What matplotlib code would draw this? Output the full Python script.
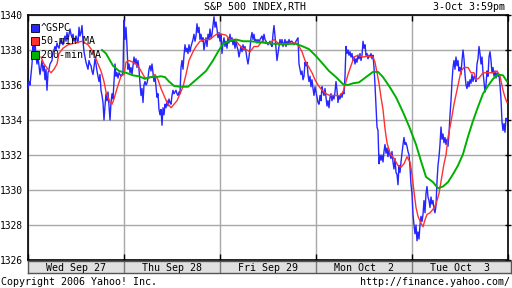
import matplotlib
matplotlib.use("Agg")
import numpy as np
import matplotlib.pyplot as plt
from matplotlib.lines import Line2D

plt.rcParams['font.family'] = ['DejaVu Sans Mono']

# ---- data (one bar ~ 4 trading minutes, 96 bars per day)
days = ["Wed Sep 27", "Thu Sep 28", "Fri Sep 29", "Mon Oct  2", "Tue Oct  3"]
bars_per_day = 96
price_ticks = [1326, 1328, 1330, 1332, 1334, 1336, 1338, 1340]

gspc = [
    1335.8, 1336.2, 1336.0, 1336.6, 1337.2, 1338.2, 1337.9, 1338.5, 1337.6, 1337.2, 1337.6, 1337.1, 1336.6, 1337.0, 1337.4, 1336.8,
    1337.1, 1336.3, 1336.9, 1335.7, 1336.7, 1336.9, 1337.2, 1337.3, 1337.4, 1337.9, 1338.0, 1338.2, 1338.0, 1338.4, 1338.2, 1338.1,
    1338.4, 1338.6, 1338.4, 1338.3, 1338.6, 1338.8, 1338.5, 1339.0, 1338.6, 1338.9, 1339.2, 1338.9, 1338.7, 1338.9, 1338.5, 1338.6,
    1338.8, 1338.6, 1338.4, 1339.3, 1338.8, 1339.0, 1339.4, 1338.5, 1337.9, 1337.6, 1337.3, 1337.1, 1336.9, 1337.4, 1337.2, 1337.1,
    1336.8, 1336.6, 1337.0, 1337.5, 1337.2, 1336.8, 1336.5, 1336.2, 1336.6, 1335.7, 1335.4, 1335.0, 1334.0, 1334.8, 1335.5, 1335.1,
    1335.6, 1334.8, 1334.0, 1335.0, 1335.5, 1335.2, 1336.2, 1337.2, 1336.5, 1336.7, 1336.4, 1336.7, 1336.6, 1336.5, 1336.6, 1336.7,
    1339.7, 1338.6, 1339.3, 1338.2, 1336.9, 1337.2, 1336.7, 1337.0, 1336.6, 1337.1, 1337.6, 1337.2, 1337.5, 1337.0, 1337.4, 1336.9,
    1336.1, 1335.4, 1335.8, 1335.0, 1336.0, 1336.2, 1336.0, 1336.1, 1336.4, 1336.9, 1337.1, 1336.8, 1337.2, 1336.7, 1336.2, 1336.5,
    1335.9, 1335.3, 1335.5, 1334.6, 1334.3, 1334.6, 1333.7, 1334.7, 1334.3, 1334.9, 1334.7, 1335.1, 1334.8, 1335.2, 1335.0, 1334.9,
    1335.4, 1335.7, 1335.5, 1335.6, 1335.7, 1335.5, 1335.4, 1335.6, 1335.5, 1337.0, 1337.4, 1336.9, 1337.7, 1338.3, 1337.9, 1338.1,
    1337.8, 1338.3, 1337.9, 1338.2, 1338.4, 1338.6, 1338.9, 1338.5, 1338.8, 1339.5, 1339.0, 1339.3, 1338.6, 1338.9, 1338.5, 1338.7,
    1338.0, 1338.4, 1338.7, 1338.2, 1338.9, 1338.6, 1339.2, 1338.7, 1338.9, 1339.4, 1339.9, 1339.3, 1339.6, 1339.2, 1338.7, 1339.0,
    1338.5, 1338.9, 1337.8, 1338.4, 1338.7, 1338.2, 1338.5, 1338.1, 1338.7, 1338.4, 1338.9, 1338.5, 1338.7, 1338.3, 1338.6, 1338.1,
    1338.5, 1338.2, 1338.0, 1337.6, 1337.9, 1338.2, 1337.9, 1338.3, 1338.0, 1338.2, 1337.9, 1337.5, 1337.2, 1337.6, 1338.1, 1338.7,
    1339.0, 1338.6, 1338.9, 1338.5, 1338.6, 1338.4, 1338.6, 1338.4, 1338.6, 1338.7, 1338.8, 1338.5, 1338.9, 1338.6, 1338.5, 1338.4,
    1338.3, 1338.4, 1338.5, 1338.3, 1338.2, 1338.9, 1339.4, 1338.8, 1338.1, 1337.4, 1337.8, 1338.2, 1338.6, 1338.3, 1338.6, 1338.2,
    1338.4, 1338.6, 1338.2, 1338.5, 1338.3, 1338.6, 1338.4, 1338.5, 1338.5, 1338.4, 1338.3, 1338.4, 1338.5, 1338.6, 1338.7, 1337.2,
    1336.9, 1336.6, 1336.8, 1336.3, 1336.5, 1337.3, 1337.1, 1337.3, 1336.6, 1336.2, 1336.5, 1335.9, 1336.3, 1335.8, 1335.4, 1335.9,
    1335.6, 1335.3, 1335.0, 1334.9, 1335.4, 1335.1, 1335.9, 1335.6, 1335.4, 1335.8, 1335.3, 1334.8, 1335.1, 1334.7, 1335.3, 1335.5,
    1335.1, 1335.4, 1335.2, 1335.6, 1336.2, 1335.7, 1335.0, 1335.4, 1335.2, 1335.5, 1335.3, 1335.6, 1335.5, 1336.5, 1338.2, 1337.8,
    1338.0, 1337.7, 1337.9, 1337.6, 1337.8, 1337.4, 1337.6, 1337.2, 1337.5, 1337.3, 1337.7, 1337.5, 1337.8, 1337.4, 1337.7, 1338.5,
    1338.1, 1338.3, 1337.7, 1337.8, 1337.5, 1337.7, 1337.6, 1337.8, 1337.5, 1337.7, 1337.0, 1336.0, 1334.8, 1333.6, 1333.4, 1331.5,
    1332.0, 1331.7, 1332.0, 1331.6, 1332.2, 1332.6, 1332.1, 1332.4, 1331.9, 1332.3, 1332.0, 1331.8, 1332.2, 1331.6, 1331.2, 1331.8,
    1331.0, 1330.9, 1330.3, 1331.4, 1331.0, 1331.6, 1332.1, 1332.6, 1333.0, 1332.6, 1332.7, 1332.5, 1332.2, 1332.0, 1331.3, 1330.3,
    1329.8, 1328.6, 1328.0, 1327.5, 1328.0, 1327.1, 1327.6, 1327.2, 1328.0, 1328.5, 1328.2, 1328.6, 1329.4, 1328.7, 1329.8, 1330.2,
    1329.6, 1329.4, 1329.0, 1329.6, 1329.2, 1329.4, 1328.9, 1328.7, 1329.1, 1330.5, 1331.4, 1331.9, 1332.6, 1333.6, 1332.9, 1333.2,
    1332.7, 1333.0, 1332.6, 1332.9, 1332.5, 1333.2, 1334.3, 1335.1, 1336.2, 1337.0, 1337.4, 1336.9, 1337.6, 1337.1, 1337.4, 1336.8,
    1337.0, 1336.6, 1337.4, 1338.0, 1337.5, 1336.6, 1336.0, 1335.8, 1336.2, 1335.9, 1336.3, 1336.1, 1336.6, 1336.2, 1336.5, 1336.4,
    1336.2, 1337.2, 1337.5, 1338.2, 1337.8, 1337.2, 1337.6, 1336.7, 1336.2, 1335.6, 1336.0, 1336.8, 1336.5, 1337.6, 1337.9, 1337.4,
    1336.7, 1337.0, 1336.5, 1336.8, 1336.4, 1336.7, 1336.5, 1336.6, 1336.0, 1335.2, 1333.9, 1333.4, 1333.8, 1333.3, 1334.1, 1334.0,
]

ma50_bar = [13, 16, 20, 23, 26, 29, 31, 35, 40, 47, 54, 60, 65, 68, 70, 73, 76, 78, 80, 82, 84, 86, 89, 93,
            96, 98, 101, 105, 108, 111, 114, 117, 121, 125, 127, 130, 133, 136, 139, 143, 146, 149, 152, 155, 158, 161, 165, 168,
            172, 177, 182, 186, 190, 194, 198, 202, 207, 211, 215, 219, 222, 226, 230, 234, 238, 242, 246, 250, 254, 258, 262, 268,
            271, 274, 277, 280, 284, 287, 290, 294, 298, 302, 307, 312, 315, 318, 320, 323, 326, 330, 335, 340, 345, 347, 349, 351,
            353, 355, 357, 359, 362, 366, 370, 373, 376, 379, 382, 384, 386, 388, 390, 393, 395, 397, 399, 402, 405, 408, 411, 414,
            416, 418, 420, 423, 426, 430, 433, 436, 440, 443, 446, 448, 451, 455, 460, 465, 469, 472, 475, 477, 479]
ma50 = [1337.6, 1337.2, 1336.9, 1336.7, 1336.9, 1337.2, 1337.8, 1338.1, 1338.3, 1338.4, 1338.5, 1338.3, 1337.9, 1337.5, 1337.2, 1336.8, 1336.2, 1335.6, 1335.3, 1335.0, 1334.9, 1335.2, 1335.8, 1336.5,
        1336.6, 1337.3, 1337.4, 1337.3, 1337.2, 1337.0, 1336.7, 1336.4, 1336.4, 1336.5, 1336.6, 1336.3, 1335.8, 1335.4, 1335.0, 1334.7, 1334.9, 1335.1, 1335.5, 1335.9, 1336.6, 1337.4, 1337.9, 1338.2,
        1338.5, 1338.6, 1338.6, 1338.8, 1338.95, 1338.9, 1338.85, 1338.6, 1338.6, 1338.3, 1338.1, 1338.0, 1337.9, 1338.2, 1338.2, 1338.5, 1338.4, 1338.4, 1338.6, 1338.4, 1338.3, 1338.3, 1338.4, 1338.4,
        1338.2, 1337.9, 1337.4, 1337.1, 1336.7, 1336.3, 1336.0, 1335.7, 1335.5, 1335.4, 1335.4, 1335.4, 1335.6, 1336.2, 1336.6, 1337.1, 1337.6, 1337.7, 1337.6, 1337.65, 1337.6, 1337.3, 1336.7, 1336.1,
        1335.3, 1334.6, 1333.5, 1332.7, 1332.1, 1331.8, 1331.4, 1331.3, 1331.5, 1331.9, 1331.6, 1330.9, 1329.9, 1329.0, 1328.5, 1328.1, 1327.9, 1328.3, 1328.6, 1328.7, 1328.9, 1329.2, 1329.8, 1330.8,
        1331.5, 1332.0, 1333.0, 1333.9, 1334.9, 1336.0, 1336.8, 1337.0, 1337.0, 1336.7, 1336.7, 1336.3, 1336.4, 1336.7, 1336.7, 1336.7, 1336.8, 1336.5, 1335.7, 1335.3, 1335.0]

ma200_bar = [74, 78, 82, 85, 91, 98, 105, 111, 117, 122, 128, 133, 137, 141, 146, 152, 160, 165, 171, 178, 185, 190, 195,
             201, 208, 215, 222, 231, 238, 247, 257, 268, 275, 281, 288, 295, 301, 308, 315, 320, 325, 331, 338, 345,
             350, 355, 361, 368, 375, 381, 388, 393, 398, 405, 410, 415, 420, 425, 430, 435, 440, 445, 450, 455, 460,
             465, 470, 475, 479]
ma200 = [1338.0, 1337.8, 1337.4, 1337.1, 1336.8, 1336.7, 1336.55, 1336.5, 1336.35, 1336.45, 1336.45, 1336.5, 1336.45, 1336.2, 1335.95, 1335.9, 1335.9, 1336.15, 1336.45, 1336.8, 1337.4, 1337.9, 1338.35,
         1338.5, 1338.6, 1338.5, 1338.5, 1338.45, 1338.4, 1338.35, 1338.35, 1338.35, 1338.2, 1338.05, 1337.65, 1337.2, 1336.8, 1336.45, 1336.05, 1336.0, 1336.1, 1336.15, 1336.45, 1336.75,
         1336.75, 1336.45, 1335.95, 1335.3, 1334.45, 1333.65, 1332.6, 1331.65, 1330.75, 1330.45, 1330.1, 1330.2, 1330.45, 1330.9, 1331.4, 1332.05, 1333.05, 1333.95, 1334.75, 1335.5,
         1335.95, 1336.35, 1336.6, 1336.55, 1336.2]

# ---- figure
W, H = 512, 288
fig = plt.figure(figsize=(W / 100, H / 100), dpi=100)
fig.patch.set_facecolor('white')

ax = fig.add_axes([28 / W, (H - 260) / H, 480 / W, 245 / H])
t = np.arange(len(gspc)) / bars_per_day
ax.plot(t, gspc, color='#2626ff', lw=1.0, zorder=3)
ax.plot(np.array(ma50_bar) / bars_per_day, ma50, color='#ff3030', lw=1.0, zorder=4)
ax.plot(np.array(ma200_bar) / bars_per_day, ma200, color='#00b000', lw=1.4, zorder=5)

ax.set_xlim(0, len(days))
ax.set_ylim(price_ticks[0], price_ticks[-1])
ax.set_yticks(price_ticks)
ax.set_yticklabels([str(p) for p in price_ticks], fontsize=6.9)
ax.set_xticks(range(len(days) + 1))
ax.grid(True, color='#a8a8a8', lw=1.0, zorder=1)
ax.tick_params(axis='y', left=False, right=True, direction='inout', length=5, width=1, pad=1.5)
ax.tick_params(axis='x', top=True, bottom=True, direction='in', length=4, width=1, labelbottom=False)
for s in ax.spines.values():
    s.set_color('black')
    s.set_linewidth(1.2)

handles = [Line2D([], [], ls='none', marker='s', markersize=5.5, markerfacecolor=c,
                  markeredgecolor='black', markeredgewidth=0.6)
           for c in ['#2626ff', '#ff3030', '#00b000']]
leg = ax.legend(handles, ['^GSPC', '50-min MA', '200-min MA'], loc='upper left',
                bbox_to_anchor=(0, 1 - 5 / 245), frameon=False, fontsize=7.2,
                borderaxespad=0.1, borderpad=0.2, handlelength=0.7,
                handletextpad=0.3, labelspacing=0.35)
leg.set_zorder(6)

# date band under the plot
bax = fig.add_axes([28 / W, (H - 273) / H, 483 / W, 12 / H])
bax.set_facecolor('#e0e0e0')
bax.set_xlim(0, 483 / bars_per_day)
bax.set_ylim(0, 1)
bax.set_xticks([])
bax.set_yticks([])
for d in range(1, len(days)):
    bax.axvline(d, color='#7a7a7a', lw=1)
for i, name in enumerate(days):
    bax.text(i + 0.5, 0.45, name, ha='center', va='center', fontsize=7.2)
for s in bax.spines.values():
    s.set_color('#555555')
    s.set_linewidth(1)

fig.text(255 / W, 1 - 7 / H, 'S&P 500 INDEX,RTH', ha='center', va='center', fontsize=7.2)
fig.text(505 / W, 1 - 7 / H, '3-Oct 3:59pm', ha='right', va='center', fontsize=7.2)
fig.text(1 / W, 1 - 282 / H, 'Copyright 2006 Yahoo! Inc.', ha='left', va='center', fontsize=7.2)
fig.text(510 / W, 1 - 282 / H, 'http://finance.yahoo.com/', ha='right', va='center', fontsize=7.2)

fig.savefig('out.png', dpi=100)
